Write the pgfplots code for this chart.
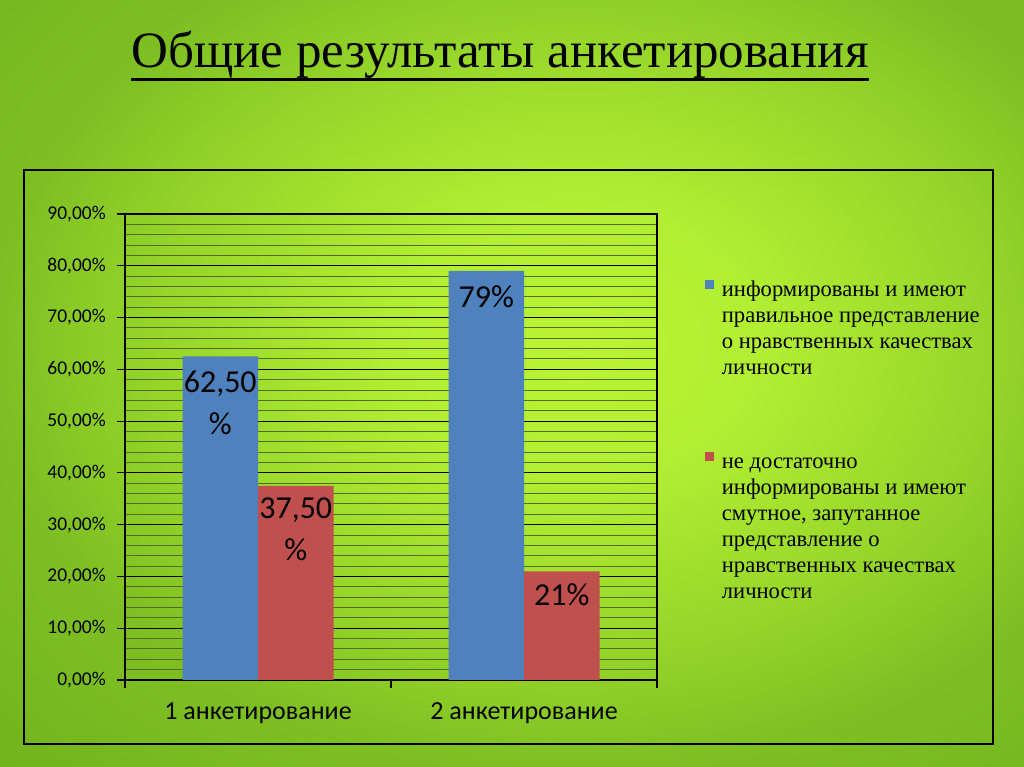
\documentclass[border=0pt]{standalone}
\usepackage{pgfplots}
\pgfplotsset{compat=1.18}
\usetikzlibrary{calc}
\usepackage{fontspec}
\setmainfont{Liberation Serif}
\newfontfamily\calibri{Carlito}

\definecolor{barblue}{RGB}{79,129,189}
\definecolor{barred}{RGB}{192,80,77}
\definecolor{bgin}{RGB}{186,243,52}
\definecolor{bgin2}{RGB}{178,238,50}
\definecolor{bgmid}{RGB}{150,214,42}
\definecolor{bgedge}{RGB}{126,192,35}
\definecolor{bgout}{RGB}{112,179,30}
\definecolor{minorgrid}{RGB}{85,105,40}
% 25bp = Mitte der Kante des schattierten Rechtecks
\pgfdeclareradialshading{greenbg}{\pgfpoint{0bp}{0bp}}{color(0bp)=(bgin); color(8bp)=(bgin2); color(18bp)=(bgmid); color(25bp)=(bgedge); color(36bp)=(bgout); color(50bp)=(bgout)}

\begin{document}
\begin{tikzpicture}[x=1pt,y=1pt]
% --- фон -------------------------------------------------
\begin{scope}
  \clip (0,0) rectangle (1024,767);
  \shade[shading=greenbg] (0,0) rectangle (1150,850);
\end{scope}

% --- заголовок -------------------------------------------
\node[font=\fontsize{51}{60}\selectfont, inner sep=0pt, anchor=base] (title)
  at (500,699) {Общие результаты анкетирования};
\draw[line width=2.6pt] ($(title.base west)+(0,-11.5)$) -- ($(title.base east)+(0,-11.5)$);

% --- рамка диаграммы -------------------------------------
\draw[line width=1.5pt] (24,23) rectangle (993,597);

\begin{axis}[
  at={(125pt,87pt)}, anchor=south west,
  scale only axis, width=532pt, height=466pt,
  xmin=0.5, xmax=2.5, ymin=0, ymax=90,
  ybar=0pt, bar width=75.5pt,
  tick pos=left, tick align=outside,
  major tick length=8pt, minor tick length=0pt,
  xtick={0.5,1.5,2.5}, xticklabels={},
  extra x ticks={1,2},
  extra x tick labels={1 анкетирование, 2 анкетирование},
  extra x tick style={major tick length=0pt},
  ytick={0,10,...,90},
  yticklabels={{0,00\%},{10,00\%},{20,00\%},{30,00\%},{40,00\%},{50,00\%},{60,00\%},{70,00\%},{80,00\%},{90,00\%}},
  minor y tick num=4,
  ymajorgrids, yminorgrids,
  major grid style={black, line width=1pt},
  minor grid style={minorgrid, line width=1pt},
  axis line style={black, line width=1.2pt},
  every tick/.style={black, line width=1.2pt},
  yticklabel style={font=\calibri\fontsize{19.5}{23}\selectfont, inner sep=0pt, xshift=-11pt},
  xticklabel style={font=\calibri\fontsize{26}{31}\selectfont, inner sep=0pt, anchor=base, yshift=-40pt},
  nodes near coords, point meta=explicit symbolic,
  every node near coord/.append style={font=\calibri\fontsize{32}{42}\selectfont,
    align=center, anchor=north, inner sep=0pt, black},
  legend style={at={(1.09,0.8637)}, anchor=north west, draw=none, fill=none,
    inner sep=0pt, outer sep=0pt, column sep=8pt, row sep=0pt,
    font=\fontsize{22.6}{26}\selectfont,
    nodes={inner sep=0pt, text height=19pt, text depth=7pt},
    cells={anchor=base west}},
  legend image code/.code={\fill[#1,draw=none] (0pt,8pt) rectangle (9pt,17pt);},
]
\addplot[fill=barblue, draw=none, every node near coord/.append style={yshift=-14.5pt}]
  coordinates {(1,62.5) [62,50\\\%] (2,79) [79\%]};
\addlegendentry{информированы и имеют}
\addlegendimage{empty legend}\addlegendentry{правильное представление}
\addlegendimage{empty legend}\addlegendentry{о нравственных качествах}
\addlegendimage{empty legend}\addlegendentry{личности}
\addlegendimage{empty legend}\addlegendentry[text height=61pt]{}
\addplot[fill=barred, draw=none, every node near coord/.append style={yshift=-12pt}]
  coordinates {(1,37.5) [37,50\\\%] (2,21) [21\%]};
\addlegendentry{не достаточно}
\addlegendimage{empty legend}\addlegendentry{информированы и имеют}
\addlegendimage{empty legend}\addlegendentry{смутное, запутанное}
\addlegendimage{empty legend}\addlegendentry{представление о}
\addlegendimage{empty legend}\addlegendentry{нравственных качествах}
\addlegendimage{empty legend}\addlegendentry{личности}
\end{axis}

\pgfresetboundingbox
\useasboundingbox (0,0) rectangle (1024,767);
\end{tikzpicture}
\end{document}
